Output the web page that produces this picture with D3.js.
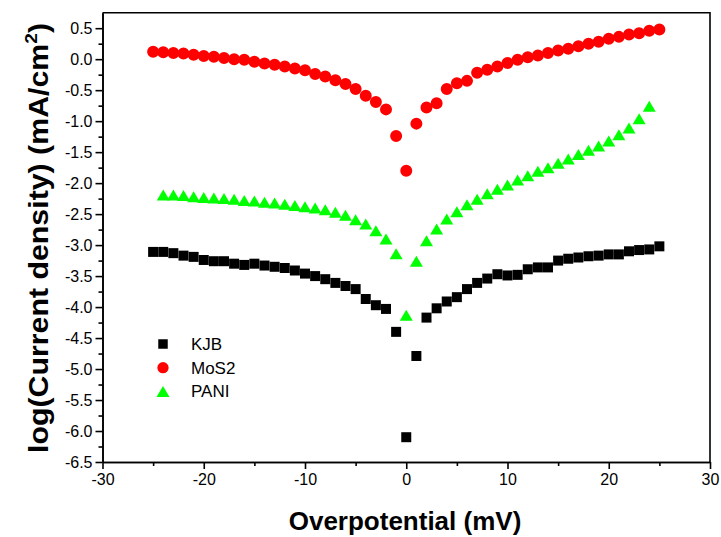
<!DOCTYPE html>
<html lang="en">
<head>
<meta charset="UTF-8">
<title>Overpotential vs log current density</title>
<style>
  body { margin: 0; background: #fff; }
  svg { display: block; font-family: Arial, "Liberation Sans", sans-serif; }
  .axis path, .axis line { stroke: #000; stroke-width: 1.6px; }
  .axis text { font-size: 16px; fill: #000; }
  .title { font-weight: bold; fill: #000; }
  .legend text { font-size: 17px; fill: #000; }
</style>
</head>
<body>
<svg id="chart" width="721" height="537"></svg>
<script src="https://d3js.org/d3.v7.min.js"></script>
<script>
// overpotential (mV), one step per point
const potential = [-25,-24,-23,-22,-21,-20,-19,-18,-17,-16,-15,-14,-13,-12,-11,-10,-9,-8,-7,-6,-5,-4,-3,-2,-1,
  0,1,2,3,4,5,6,7,8,9,10,11,12,13,14,15,16,17,18,19,20,21,22,23,24,25];
const potentialPani = [-24,-23,-22,-21,-20,-19,-18,-17,-16,-15,-14,-13,-12,-11,-10,-9,-8,-7,-6,-5,-4,-3,-2,-1,
  0,1,2,3,4,5,6,7,8,9,10,11,12,13,14,15,16,17,18,19,20,21,22,23,24];

const kjb = [-3.11,-3.11,-3.13,-3.17,-3.19,-3.24,-3.26,-3.26,-3.30,-3.32,-3.30,-3.33,-3.35,-3.37,-3.41,-3.46,-3.50,-3.55,-3.61,-3.66,-3.71,-3.87,-3.97,-4.03,-4.40,
  -6.10,-4.79,-4.17,-4.02,-3.91,-3.84,-3.71,-3.61,-3.54,-3.47,-3.49,-3.48,-3.39,-3.36,-3.36,-3.25,-3.22,-3.20,-3.18,-3.17,-3.15,-3.15,-3.10,-3.08,-3.07,-3.02];
const mos2 = [0.12,0.11,0.10,0.09,0.07,0.05,0.04,0.02,0.00,-0.01,-0.04,-0.07,-0.09,-0.12,-0.15,-0.18,-0.24,-0.28,-0.34,-0.40,-0.48,-0.59,-0.69,-0.81,-1.24,
  -1.80,-1.04,-0.78,-0.71,-0.48,-0.39,-0.35,-0.22,-0.17,-0.12,-0.06,-0.01,0.03,0.06,0.10,0.14,0.17,0.21,0.25,0.28,0.33,0.36,0.40,0.42,0.46,0.48];
const pani = [-2.19,-2.19,-2.20,-2.22,-2.23,-2.24,-2.25,-2.26,-2.28,-2.29,-2.31,-2.32,-2.34,-2.36,-2.38,-2.40,-2.43,-2.47,-2.52,-2.59,-2.66,-2.77,-2.90,-3.14,
  -4.13,-3.26,-2.93,-2.74,-2.58,-2.46,-2.35,-2.26,-2.17,-2.10,-2.03,-1.95,-1.88,-1.81,-1.75,-1.68,-1.61,-1.54,-1.47,-1.40,-1.32,-1.22,-1.11,-0.96,-0.76];

const xMajor = [-30,-20,-10,0,10,20,30];
const xMinor = [-25,-15,-5,5,15,25];
const yMajor = [-6.5,-6.0,-5.5,-5.0,-4.5,-4.0,-3.5,-3.0,-2.5,-2.0,-1.5,-1.0,-0.5,0.0,0.5];
const yMinor = [-6.25,-5.75,-5.25,-4.75,-4.25,-3.75,-3.25,-2.75,-2.25,-1.75,-1.25,-0.75,-0.25,0.25];

const svg = d3.select('#chart');
const x = d3.scaleLinear().domain([-30, 30]).range([102.5, 710]);
const y = d3.scaleLinear().domain([-6.5, 0.75]).range([462, 12.7]);

// frame (top and right)
svg.append('path')
  .attr('d', `M${x(-30)},${y(0.75)}H${x(30)}V${y(-6.5)}`)
  .attr('fill', 'none').attr('stroke', '#000').attr('stroke-width', 1.6);

// minor ticks first, then major axis on top
svg.append('g').attr('class', 'axis').attr('transform', `translate(0,${y(-6.5)})`)
  .call(d3.axisBottom(x).tickValues(xMinor).tickSize(4).tickFormat('').tickSizeOuter(0));
svg.append('g').attr('class', 'axis').attr('transform', `translate(${x(-30)},0)`)
  .call(d3.axisLeft(y).tickValues(yMinor).tickSize(4).tickFormat('').tickSizeOuter(0));

svg.append('g').attr('class', 'axis').attr('transform', `translate(0,${y(-6.5)})`)
  .call(d3.axisBottom(x).tickValues(xMajor).tickSize(7).tickPadding(5).tickSizeOuter(0).tickFormat(d => String(d)));
svg.append('g').attr('class', 'axis').attr('transform', `translate(${x(-30)},0)`)
  .call(d3.axisLeft(y).tickValues(yMajor).tickSize(7).tickPadding(3).tickSizeOuter(0).tickFormat(d => d.toFixed(1)));

// axis titles
svg.append('text').attr('class', 'title')
  .attr('x', 405).attr('y', 530).attr('text-anchor', 'middle')
  .style('font-size', '26px')
  .text('Overpotential (mV)');

const yt = svg.append('text').attr('class', 'title')
  .attr('transform', 'translate(48,238) rotate(-90)').attr('text-anchor', 'middle')
  .attr('textLength', 430).attr('lengthAdjust', 'spacingAndGlyphs')
  .style('font-size', '27px');
yt.append('tspan').text('log(Current density) (mA/cm');
yt.append('tspan').attr('dy', -11).style('font-size', '17px').text('2');
yt.append('tspan').attr('dy', 11).text(')');

// markers
const sq = d3.symbol().type(d3.symbolSquare).size(100);
const circ = d3.symbol().type(d3.symbolCircle).size(113);
function tri(w, h) { return `M0,${-h/2}L${w/2},${h/2}L${-w/2},${h/2}Z`; }

svg.append('g').selectAll('path').data(potential.map((p, i) => [p, kjb[i]]))
  .join('path').attr('d', sq).attr('fill', '#000')
  .attr('transform', d => `translate(${x(d[0])},${y(d[1])})`);
svg.append('g').selectAll('path').data(potential.map((p, i) => [p, mos2[i]]))
  .join('path').attr('d', circ).attr('fill', '#ff0000')
  .attr('transform', d => `translate(${x(d[0])},${y(d[1])})`);
svg.append('g').selectAll('path').data(potentialPani.map((p, i) => [p, pani[i]]))
  .join('path').attr('d', tri(13, 11)).attr('fill', '#00ff00')
  .attr('transform', d => `translate(${x(d[0])},${y(d[1])})`);

// legend
const legend = svg.append('g').attr('class', 'legend');
const items = [
  { name: 'KJB', color: '#000', shape: d3.symbol().type(d3.symbolSquare).size(90)() },
  { name: 'MoS2', color: '#ff0000', shape: d3.symbol().type(d3.symbolCircle).size(100)() },
  { name: 'PANI', color: '#00ff00', shape: tri(13, 11) }
];
items.forEach((it, i) => {
  const cy = 344 + i * 23.7;
  legend.append('path').attr('d', it.shape).attr('fill', it.color)
    .attr('transform', `translate(163,${cy})`);
  legend.append('text').attr('x', 191).attr('y', cy + 6).text(it.name);
});
</script>
</body>
</html>
